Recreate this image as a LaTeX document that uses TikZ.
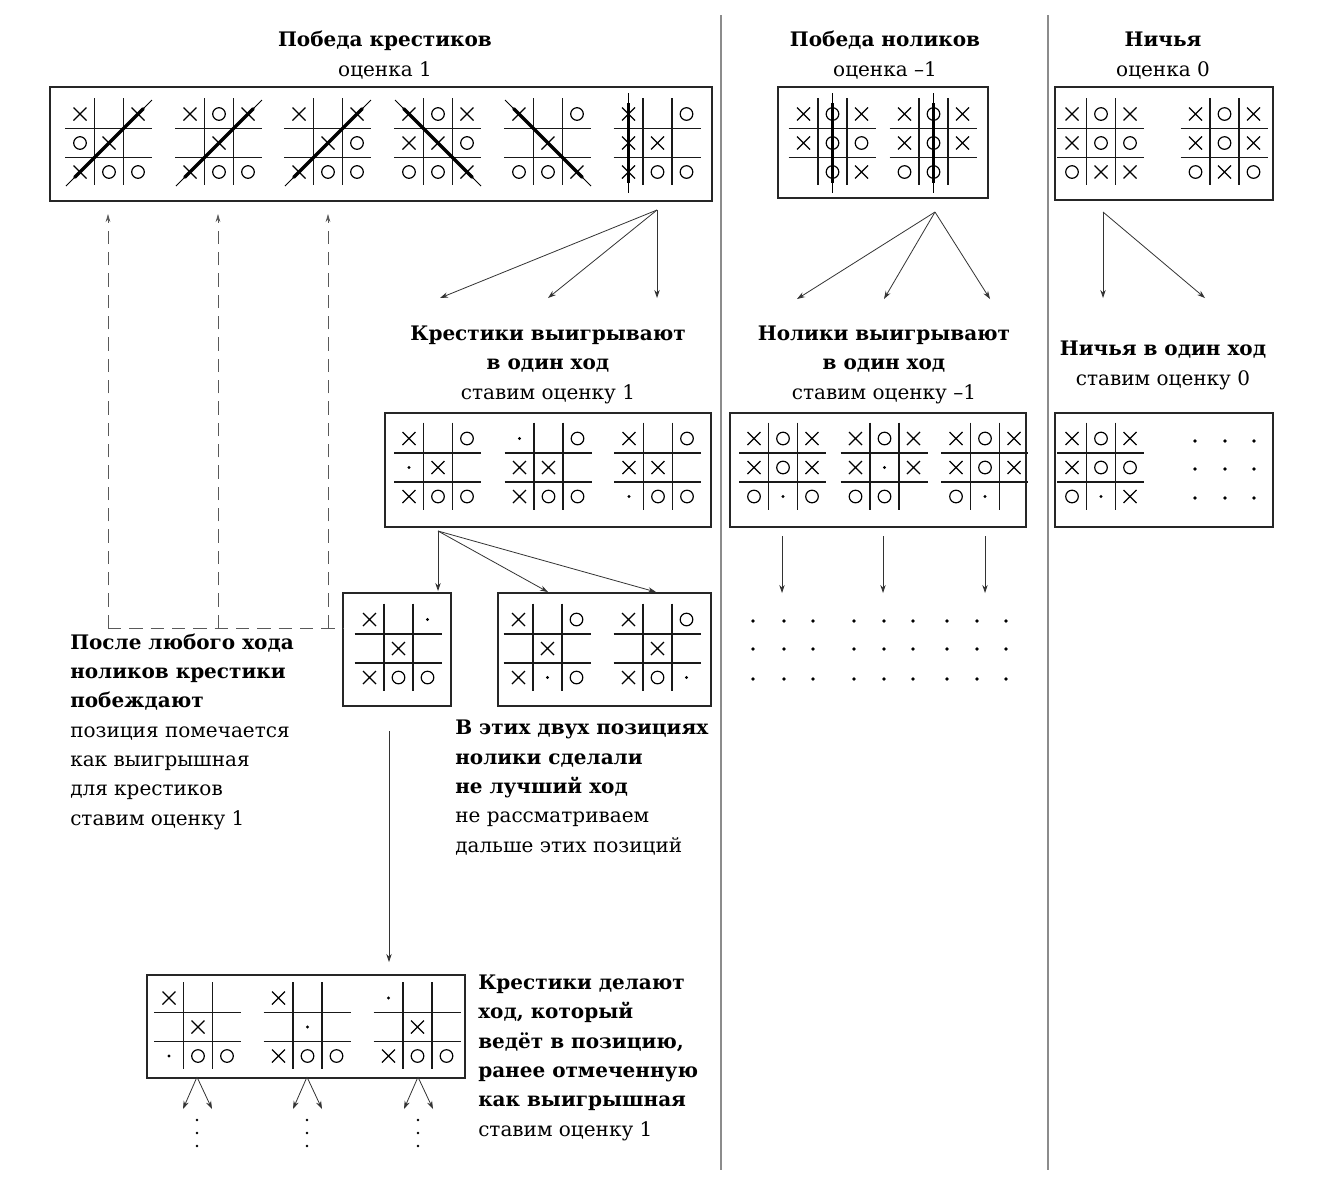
\documentclass[tikz,border=0pt]{standalone}
\usepackage{fontspec}
\setmainfont{DejaVu Serif}
\usetikzlibrary{arrows.meta,calc}
\tikzset{
  gridl/.style={line width=1.1pt, black!90},
  symb/.style={line width=0.9pt, black},
  winthin/.style={line width=0.7pt, black},
  winthick/.style={line width=2.6pt, black},
  panel/.style 2 args={draw=black!85, line width=1.1pt, minimum width=#1*0.75pt, minimum height=#2*0.75pt, inner sep=0pt},
  arr/.style={draw=black!80, line width=0.6pt, -{Stealth[length=6pt,width=4pt]}},
  darr/.style={draw=black!65, line width=0.6pt, dash pattern=on 10pt off 6pt, -{Stealth[length=6pt,width=3.5pt]}},
  dline/.style={draw=black!65, line width=0.6pt, dash pattern=on 10pt off 6pt},
  sep/.style={draw=black!45, line width=1.4pt},
  txt/.style={font=\fontsize{15}{22}\selectfont, inner sep=0pt},
}
\newcommand\mkX[2]{\draw[symb] (#1-6.5,#2-6.5) -- (#1+6.5,#2+6.5) (#1-6.5,#2+6.5) -- (#1+6.5,#2-6.5);}
\newcommand\mkO[2]{\draw[symb] (#1,#2) circle[radius=6.3];}
\newcommand\mkD[2]{\fill (#1,#2) circle[radius=1.7];}
\newcommand\mkN[2]{}
\newcommand\ttt[3]{%
  \begin{scope}[shift={(#1,#2)}]
    \draw[gridl] (-44,-14.5) -- (43,-14.5) (-44,14.5) -- (43,14.5)
                 (-14.5,-45) -- (-14.5,42) (14.5,-45) -- (14.5,42);
    \foreach \m [count=\k from 0] in {#3} {
      \pgfmathsetmacro\cx{(mod(\k,3)-1)*29}
      \pgfmathsetmacro\cy{(floor(\k/3)-1)*29}
      \csname mk\m\endcsname{\cx}{\cy}
    }
  \end{scope}}
\newcommand\win[4]{%
  \draw[winthin] (#1,#2) -- (#3,#4);
  \draw[winthick] ($(#1,#2)!0.1!(#3,#4)$) -- ($(#1,#2)!0.9!(#3,#4)$);}
\newcommand\dotgrid[6]{% x1 x2 x3 y1 y2 y3
  \foreach \xx in {#1,#2,#3} \foreach \yy in {#4,#5,#6} \fill (\xx,\yy) circle[radius=1.8];}
\begin{document}
\begin{tikzpicture}[x=0.75pt,y=-0.75pt]
\useasboundingbox (0,0) rectangle (1320,1183);
\fill[white] (0,0) rectangle (1320,1183);

% separators
\coordinate (s1a) at (721,15); \coordinate (s1b) at (721,1170);
\coordinate (s2a) at (1048,15); \coordinate (s2b) at (1048,1170);
\draw[sep] (s1a) -- (s1b);
\draw[sep] (s2a) -- (s2b);

% panels
\node[panel={662}{114}] (p1) at (381,144) {};
\node[panel={210}{111}] (p2) at (883,142.5) {};
\node[panel={218}{113}] (p3) at (1164,143.5) {};
\node[panel={326}{114}] (p4) at (548,470) {};
\node[panel={296}{114}] (p5) at (878,470) {};
\node[panel={218}{114}] (p6) at (1164,470) {};
\node[panel={108}{113}] (p7) at (397,649.5) {};
\node[panel={213}{113}] (p8) at (604.5,649.5) {};
\node[panel={318}{103}] (p9) at (306,1026.5) {};

% boards: panel 1
\ttt{109}{143}{X,N,X,O,X,N,X,O,O}
\ttt{219}{143}{X,O,X,N,X,N,X,O,O}
\ttt{328}{143}{X,N,X,N,X,O,X,O,O}
\ttt{438}{143}{X,O,X,X,X,O,O,O,X}
\ttt{548}{143}{X,N,O,N,X,N,O,O,X}
\ttt{657.5}{143}{X,N,O,X,X,N,X,O,O}
\win{66}{186}{152}{100}
\win{176}{186}{262}{100}
\win{285}{186}{371}{100}
\win{395}{100}{481}{186}
\win{505}{100}{591}{186}
\win{628.5}{93}{628.5}{193}
% panel 2
\ttt{832.5}{143}{X,O,X,X,O,O,N,O,X}
\ttt{933.5}{143}{X,O,X,X,O,X,O,O,N}
\win{832.5}{93}{832.5}{193}
\win{933.5}{93}{933.5}{193}
% panel 3
\ttt{1101}{143}{X,O,X,X,O,O,O,X,X}
\ttt{1224.5}{143}{X,O,X,X,O,X,O,X,O}
% panel 4
\ttt{438}{467.5}{X,N,O,D,X,N,X,O,O}
\ttt{548.5}{467.5}{D,N,O,X,X,N,X,O,O}
\ttt{658}{467.5}{X,N,O,X,X,N,D,O,O}
% panel 5
\ttt{783}{467.5}{X,O,X,X,O,X,O,D,O}
\ttt{884.5}{467.5}{X,O,X,X,D,X,O,O,N}
\ttt{985}{467.5}{X,O,X,X,O,X,O,D,N}
% panel 6
\ttt{1101}{467.5}{X,O,X,X,O,O,O,D,X}
\dotgrid{1195}{1225}{1254}{441}{469}{498}
% panels 7, 8
\ttt{398.5}{648.5}{X,N,D,N,X,N,X,O,O}
\ttt{547.5}{648.5}{X,N,O,N,X,N,X,D,O}
\ttt{657.5}{648.5}{X,N,O,N,X,N,X,O,D}
% panel 9
\ttt{198}{1027}{X,N,N,N,X,N,D,O,O}
\ttt{307.5}{1027}{X,N,N,N,D,N,X,O,O}
\ttt{417.5}{1027}{D,N,N,N,X,N,X,O,O}

% texts (anchor=base is the baseline of the last line)
\node[txt, align=center, anchor=base] (t1) at (385,76) {{\bfseries Победа крестиков}\\оценка 1};
\node[txt, align=center, anchor=base] (t2) at (885,76) {{\bfseries Победа ноликов}\\оценка –1};
\node[txt, align=center, anchor=base] (t3) at (1163,76) {{\bfseries Ничья}\\оценка 0};
\node[txt, align=center, anchor=base] (t4) at (548,399) {{\bfseries Крестики выигрывают}\\{\bfseries в один ход}\\ставим оценку 1};
\node[txt, align=center, anchor=base] (t5) at (884,399) {{\bfseries Нолики выигрывают}\\{\bfseries в один ход}\\ставим оценку –1};
\node[txt, align=center, anchor=base] (t6) at (1163,385) {{\bfseries Ничья в один ход}\\ставим оценку 0};
\node[txt, align=left, anchor=base west] (t7) at (70,825) {{\bfseries После любого хода}\\{\bfseries ноликов крестики}\\{\bfseries побеждают}\\позиция помечается\\как выигрышная\\для крестиков\\ставим оценку 1};
\node[txt, align=left, anchor=base west] (t8) at (455,852) {{\bfseries В этих двух позициях}\\{\bfseries нолики сделали}\\{\bfseries не лучший ход}\\не рассматриваем\\дальше этих позиций};
\node[txt, align=left, anchor=base west] (t9) at (478,1136) {{\bfseries Крестики делают}\\{\bfseries ход, который}\\{\bfseries ведёт в позицию,}\\{\bfseries ранее отмеченную}\\{\bfseries как выигрышная}\\ставим оценку 1};

% arrows from panel 1
\coordinate (a1) at (657,210);
\coordinate (a1e1) at (440,298); \coordinate (a1e2) at (548,298); \coordinate (a1e3) at (657,298);
\draw[arr] (a1) -- (a1e1);
\draw[arr] (a1) -- (a1e2);
\draw[arr] (a1) -- (a1e3);
% arrows from panel 2
\coordinate (a2) at (935,212);
\coordinate (a2e1) at (797,299); \coordinate (a2e2) at (884,299); \coordinate (a2e3) at (990,299);
\draw[arr] (a2) -- (a2e1);
\draw[arr] (a2) -- (a2e2);
\draw[arr] (a2) -- (a2e3);
% arrows from panel 3
\coordinate (a3) at (1103,212);
\coordinate (a3e1) at (1103,298); \coordinate (a3e2) at (1205,298);
\draw[arr] (a3) -- (a3e1);
\draw[arr] (a3) -- (a3e2);
% arrows from panel 4
\coordinate (a4) at (438,531);
\coordinate (a4e1) at (438,591); \coordinate (a4e2) at (548,592); \coordinate (a4e3) at (656,592);
\draw[arr] (a4) -- (a4e1);
\draw[arr] (a4) -- (a4e2);
\draw[arr] (a4) -- (a4e3);
% arrows from panel 5
\foreach \xx [count=\i] in {782,883,985}{
  \coordinate (a5s\i) at (\xx,536); \coordinate (a5e\i) at (\xx,593);
  \draw[arr] (a5s\i) -- (a5e\i);}
\dotgrid{753}{784}{813}{621}{649}{679}
\dotgrid{854}{884}{913}{621}{649}{679}
\dotgrid{947}{977}{1006}{621}{649}{679}

% dashed back arrows
\coordinate (dh) at (343,628);
\foreach \xx [count=\i] in {108,218,328}{
  \coordinate (db\i) at (\xx,628); \coordinate (dt\i) at (\xx,214);
  \draw[darr] (db\i) -- (dt\i);}
\draw[dline] (db1) -- (dh);

% long arrow down to panel 9
\coordinate (l1) at (389,731); \coordinate (l2) at (389,962);
\draw[arr] (l1) -- (l2);

% arrows below panel 9
\foreach \xx [count=\i] in {197,307,418}{
  \coordinate (b\i) at (\xx,1077);
  \coordinate (bl\i) at (\xx-14,1109); \coordinate (br\i) at (\xx+15,1109);
  \draw[arr] (b\i) -- (bl\i);
  \draw[arr] (b\i) -- (br\i);
  \fill (\xx,1120) circle[radius=1.3] (\xx,1133) circle[radius=1.3] (\xx,1146) circle[radius=1.3];}
\end{tikzpicture}
\end{document}
